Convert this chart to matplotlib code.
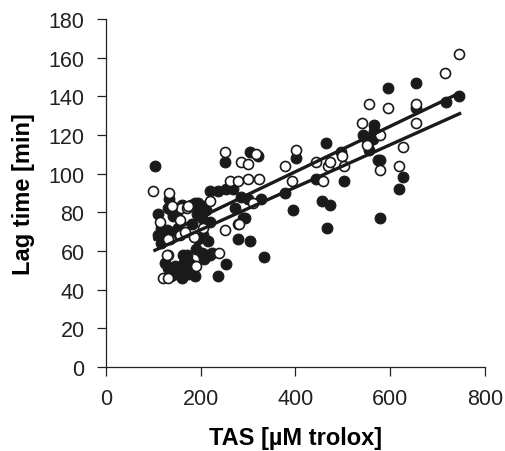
import numpy as np
import matplotlib
matplotlib.use('Agg')
from matplotlib import pyplot as plt

# filled circles: TAS [uM trolox], lag time [min]
filled_tas = [103, 133, 110, 138, 142, 117, 128, 138, 152, 110, 124, 117, 124, 131, 145,
              138, 149, 163, 171, 163, 169, 163, 161, 188, 195, 205, 212, 200, 192, 181,
              202, 219, 205, 216, 195, 191, 202, 212, 223, 207, 219, 170, 177, 174, 188,
              237, 254, 334, 219, 237, 254, 268, 286, 300, 328, 272, 293, 279, 304, 252,
              304, 321, 290, 180, 160, 150, 130, 377, 394, 401, 444, 457, 473, 467, 465,
              497, 502, 546, 553, 563, 565, 565, 555, 578, 628, 618, 578, 595, 655, 655,
              717, 746, 542, 575]
filled_lag = [104, 87, 79, 81, 78, 72, 71, 70, 72, 68, 66, 64, 54, 51, 52,
              47, 48, 58, 56, 53, 51, 48, 46, 85, 85, 83, 81, 80, 79, 74,
              77, 75, 68, 65, 66, 61, 59, 58, 59, 56, 58, 58, 53, 48, 47,
              47, 53, 57, 91, 91, 92, 92, 88, 87, 87, 82, 77, 66, 65, 106,
              111, 109, 77, 84, 84, 80, 82, 90, 81, 108, 97, 86, 84, 72, 116,
              111, 96, 119, 116, 118, 122, 125, 112, 107, 98, 92, 77, 144, 147, 134,
              137, 140, 120, 107]

# open circles
open_tas = [100, 133, 158, 171, 114, 156, 135, 156, 167, 130, 131, 128, 121, 131, 188,
            191, 174, 219, 238, 251, 279, 252, 286, 300, 316, 261, 279, 300, 323, 311,
            281, 377, 401, 393, 444, 458, 468, 473, 499, 502, 541, 555, 551, 579, 579,
            618, 627, 655, 655, 595, 716, 746, 140, 205, 185]
open_lag = [91, 90, 82, 82, 75, 76, 66, 68, 70, 66, 58, 58, 46, 46, 52,
            52, 83, 86, 59, 71, 74, 111, 106, 105, 110, 96, 96, 97, 97, 85,
            74, 104, 112, 96, 106, 96, 104, 106, 109, 104, 126, 136, 115, 120, 102,
            104, 114, 126, 136, 134, 152, 162, 83, 72, 67]

# regression lines (intercept, slope) over TAS range
fit_range = [100, 750]
fit_upper = (54.0, 0.1174)
fit_lower = (49.0, 0.1098)

fig = plt.figure(figsize=(5.05, 4.52), dpi=100)
ax = fig.add_axes([0.21, 0.186, 0.75, 0.77])

font = 'Liberation Sans'
ink = '#1a1a1a'

ax.scatter(filled_tas, filled_lag, s=60, c=ink, edgecolors=ink,
           linewidths=0.8, zorder=2)
ax.scatter(open_tas, open_lag, s=52, c='white', edgecolors=ink,
           linewidths=1.2, zorder=2)

xs = np.array(fit_range)
for b, m in (fit_upper, fit_lower):
    ax.plot(xs, b + m * xs, color=ink, lw=2.4, solid_capstyle='butt', zorder=3)

ax.set_xlim(0, 800)
ax.set_ylim(0, 180)
ax.set_xticks([0, 200, 400, 600, 800])
ax.set_yticks(np.arange(0, 181, 20))

for s in ['top', 'right']:
    ax.spines[s].set_visible(False)
for s in ['left', 'bottom']:
    ax.spines[s].set_linewidth(0.9)
    ax.spines[s].set_color('#222222')

ax.tick_params(direction='out', length=6.5, width=0.9, color='#222222',
               labelsize=15.5, labelcolor='#222222', pad=9)
for lbl in ax.get_xticklabels() + ax.get_yticklabels():
    lbl.set_fontfamily(font)

ax.set_xlabel('TAS [\u00b5M trolox]', fontsize=17, fontweight='bold',
              family=font, labelpad=12)
ax.set_ylabel('Lag time [min]', fontsize=17, fontweight='bold',
              family=font, labelpad=10)

fig.savefig('out.png', dpi=100)
